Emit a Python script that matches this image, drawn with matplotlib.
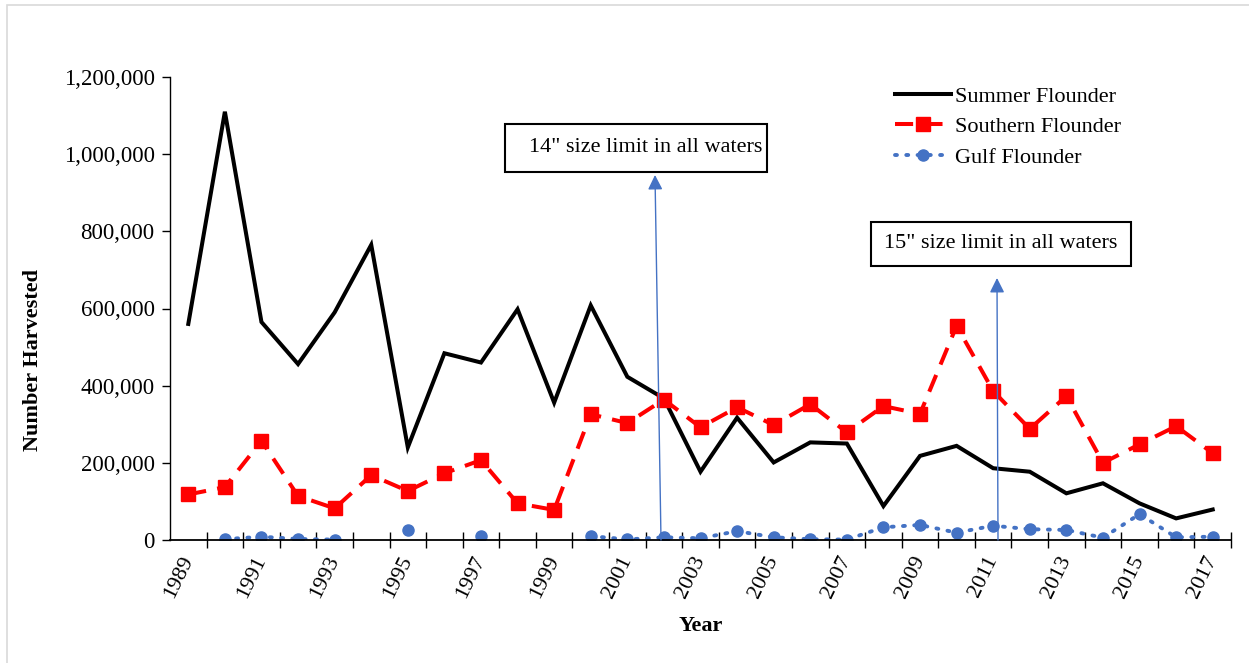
import numpy as np
import matplotlib
matplotlib.use("Agg")
import matplotlib.pyplot as plt
from matplotlib.patches import Rectangle
from matplotlib.ticker import FuncFormatter

plt.rcParams['font.family'] = ['Liberation Serif', 'DejaVu Serif']

years = list(range(1989, 2018))
summer = [560000, 1110000, 565000, 456000, 590000, 765000, 240000, 484000, 460000,
          598000, 356000, 608000, 423000, 367000, 177000, 317000, 201000, 253000,
          250000, 88000, 218000, 244000, 186000, 177000, 121000, 147000, 95000,
          56000, 79000]
southern = [118000, 137000, 257000, 114000, 82000, 168000, 127000, 173000, 207000,
            95000, 78000, 326000, 303000, 364000, 292000, 344000, 298000, 352000,
            279000, 347000, 327000, 555000, 386000, 288000, 373000, 200000, 248000,
            295000, 225000]
gulf = [np.nan, 2000, 8500, 2600, 1000, np.nan, 26000, np.nan, 10000,
        np.nan, np.nan, 10000, 1500, 7000, 4400, 23000, 7000, 2000,
        1000, 33000, 39000, 19000, 37000, 28000, 26000, 6000, 67000,
        7000, 8500]
yticks = [0, 200000, 400000, 600000, 800000, 1000000, 1200000]

W, H = 1249, 663
fig = plt.figure(figsize=(W / 100, H / 100), dpi=100)
# chart border (right and bottom edges fall outside the image)
fig.patches.append(Rectangle((7 / W, -0.5), 1.5, 0.5 + (H - 5) / H, transform=fig.transFigure,
                             fill=False, edgecolor='#d9d9d9', linewidth=1.2))

ax = fig.add_axes([170 / W, (H - 540) / H, (1231 - 170) / W, (540 - 77) / H])
x = np.arange(len(years))

ax.plot(x, summer, color='black', lw=2.9, label='Summer Flounder', solid_joinstyle='miter')
ax.plot(x, southern, color='#ff0000', lw=2.9, ls=(0, (4.5, 2.8)), marker='s', ms=10,
        label='Southern Flounder')
ax.plot(x, gulf, color='#4472c4', lw=2.8, ls=(0, (0.5, 2.4)), dash_capstyle='round',
        marker='o', ms=8, label='Gulf Flounder')

ax.set_xlim(-0.5, len(years) - 0.5)
ax.set_ylim(0, 1200000)
ax.set_yticks(yticks)
ax.yaxis.set_major_formatter(FuncFormatter(lambda v, p: f'{int(v):,}'))
ax.tick_params(axis='y', labelsize=16.5, length=6, width=1, direction='out', pad=5)

# x: tick marks at category boundaries, labels at every other category
ax.set_xticks(np.arange(0.5, len(years) - 0.5 + 0.01, 1.0))
ax.set_xticklabels([])
ax.tick_params(axis='x', which='major', length=12, width=1, direction='inout')
ax.set_xticks(x[::2], minor=True)
ax.set_xticklabels([str(y) for y in years[::2]], minor=True, rotation=64,
                   ha='right', va='center', rotation_mode='anchor', fontsize=16)
ax.tick_params(axis='x', which='minor', length=0, pad=12)

for s in ['top', 'right']:
    ax.spines[s].set_visible(False)
ax.spines['left'].set_color('black')
ax.spines['bottom'].set_color('black')
ax.spines['left'].set_linewidth(1)
ax.spines['bottom'].set_linewidth(1.3)

ax.set_xlabel('Year', fontsize=16, fontweight='bold')
ax.xaxis.set_label_coords(0.5, -0.165)
ax.set_ylabel('Number Harvested', fontsize=16, fontweight='bold')
ax.yaxis.set_label_coords(-0.1195, 0.389)

leg = ax.legend(loc='upper left', bbox_to_anchor=((895 - 170) / 1061, (540 - 80) / 463 - 0.013),
                frameon=False, fontsize=16, handlelength=2.5, handletextpad=0.2,
                labelspacing=0.45, borderaxespad=0, borderpad=0)

# annotation boxes
def axfx(px):
    return (px - 170) / 1061

def axfy(py):
    return (540 - py) / 463

for (x0, y0, x1, y1) in [(505, 124, 767, 172), (871, 222, 1131, 266)]:
    ax.add_patch(Rectangle((axfx(x0), axfy(y1)), axfx(x1) - axfx(x0), axfy(y0) - axfy(y1),
                           transform=ax.transAxes, fill=True, facecolor='white',
                           edgecolor='black', lw=1.5, zorder=5))
ax.text(axfx(762), axfy(148), '14" size limit in all waters', transform=ax.transAxes,
        ha='right', va='center', fontsize=16, zorder=6)
ax.text(axfx(1001), axfy(243), '15" size limit in all waters', transform=ax.transAxes,
        ha='center', va='center', fontsize=16, zorder=6)

for (xb, xt, yt) in [(661, 655, 175), (998, 997, 278)]:
    ax.annotate('', xy=(axfx(xt), axfy(yt)), xytext=(axfx(xb), 0),
                xycoords='axes fraction', textcoords='axes fraction',
                arrowprops=dict(arrowstyle='-|>', color='#4472c4', lw=1,
                                mutation_scale=22, shrinkA=0, shrinkB=0), zorder=4)

fig.savefig('out.png', dpi=100)
